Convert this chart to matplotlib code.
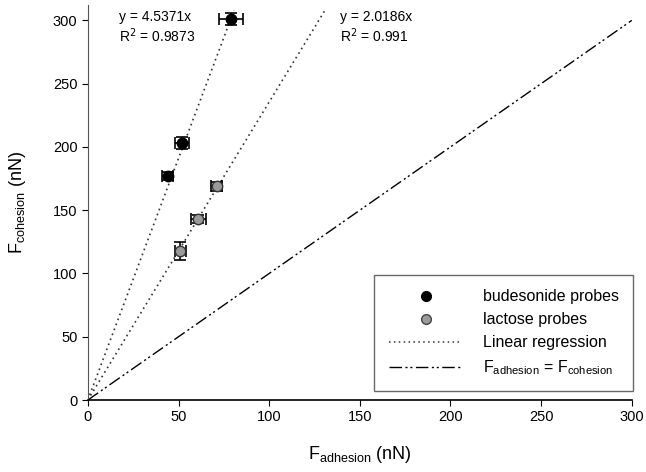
import matplotlib.pyplot as plt
import numpy as np

plt.rcParams['font.family'] = ['Liberation Sans', 'DejaVu Sans']

# budesonide probes
bud_x = [44, 52, 79]
bud_y = [177, 203, 301]
bud_xerr = [3, 4, 6.5]
bud_yerr = [3, 5, 5]

# lactose probes
lac_x = [51, 61, 71]
lac_y = [118, 143, 169]
lac_xerr = [3, 4, 3]
lac_yerr = [7, 3.5, 3.5]

# regression lines as drawn, and the printed equations
slopes = [3.82, 2.355]
eq_labels = [("y = 4.5371x", "R$^2$ = 0.9873"), ("y = 2.0186x", "R$^2$ = 0.991")]
eq_pos = [(17, 303), (139, 303)]

fig = plt.figure(figsize=(6.46, 4.72), dpi=100)
ax = fig.add_axes([0.136, 0.1525, 0.842, 0.8365])

y_top = 308
for k in slopes:
    xs = np.array([0, y_top / k])
    ax.plot(xs, k * xs, color='#333333', linestyle=(0, (1, 2.2)), linewidth=1.2, zorder=2)

ax.plot([0, 300], [0, 300], color='black', linewidth=1.0,
        dashes=(9, 2.5, 1.5, 2, 1.5, 2.5), zorder=2)

ax.errorbar(bud_x, bud_y, xerr=bud_xerr, yerr=bud_yerr, fmt='o', color='black',
            mfc='black', mec='black', ms=7.5, capsize=4, elinewidth=1.2, capthick=1.2, zorder=3)
ax.errorbar(lac_x, lac_y, xerr=lac_xerr, yerr=lac_yerr, fmt='o', color='black',
            mfc='#9a9a9a', mec='#333333', ms=7.5, capsize=4, elinewidth=1.2, capthick=1.2, zorder=3)

for (l1, l2), (tx, ty) in zip(eq_labels, eq_pos):
    ax.text(tx, ty, l1, fontsize=10, va='center')
    ax.text(tx, ty - 15, l2, fontsize=10, va='center')

# legend handles
h1, = ax.plot([], [], 'o', color='black', ms=7)
h2, = ax.plot([], [], 'o', mfc='#9a9a9a', mec='#444444', ms=7)
h3, = ax.plot([], [], color='#333333', linestyle=(0, (1, 2.2)), linewidth=1.1)
h4, = ax.plot([], [], color='black', linewidth=1.0, dashes=(9, 2.5, 1.5, 2, 1.5, 2.5))
leg = ax.legend([h1, h2, h3, h4],
                ['budesonide probes', 'lactose probes', 'Linear regression',
                 r'F$_{\mathregular{adhesion}}$ = F$_{\mathregular{cohesion}}$'],
                loc='lower right', bbox_to_anchor=(1.003, 0.022), fontsize=11.5,
                frameon=True, fancybox=False, handlelength=4.6, handletextpad=1.3,
                borderpad=0.9, borderaxespad=0.0, labelspacing=0.5)
leg.get_frame().set_edgecolor('#444444')
leg.get_frame().set_linewidth(1.0)

ax.set_xlim(0, 300)
ax.set_ylim(0, 312)
ax.set_xticks([0, 50, 100, 150, 200, 250, 300])
ax.set_yticks([0, 50, 100, 150, 200, 250, 300])
ax.spines['top'].set_visible(False)
ax.spines['right'].set_visible(False)
ax.spines['left'].set_color('#555555')
ax.spines['bottom'].set_linewidth(1.2)
ax.tick_params(direction='out', length=4, labelsize=10.5)

ax.set_xlabel(r'F$_{\mathregular{adhesion}}$ (nN)', fontsize=13, labelpad=14)
ax.set_ylabel(r'F$_{\mathregular{cohesion}}$ (nN)', fontsize=13, labelpad=18)

fig.savefig('out.png', dpi=100)
